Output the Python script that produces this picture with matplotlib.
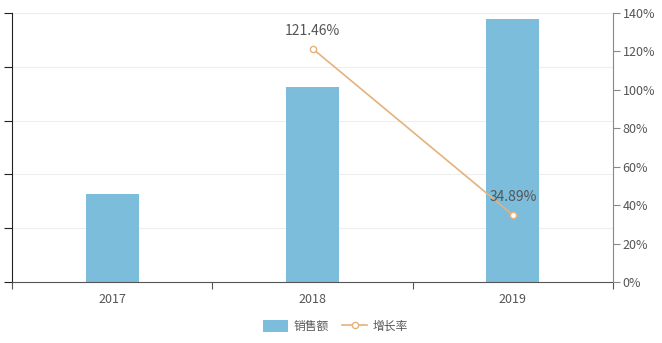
import matplotlib
matplotlib.use('Agg')
import matplotlib.pyplot as plt
from matplotlib.ticker import FixedLocator

plt.rcParams['font.family'] = ['Noto Sans CJK SC', 'DejaVu Sans']

# Data
years = ['2017', '2018', '2019']
sales = [82, 181.6, 244.5]          # 销售额 (left axis has no labels)
growth_years = [1, 2]               # positions of 2018, 2019
growth = [121.46, 34.89]            # 增长率 %
growth_labels = ['121.46%', '34.89%']
right_ticks = [0, 20, 40, 60, 80, 100, 120, 140]

BAR_COLOR = '#7bbdda'
LINE_COLOR = '#e4b27c'
TEXT_COLOR = '#555555'

fig = plt.figure(figsize=(6.62, 3.43), dpi=100)
ax = fig.add_axes([12 / 662, 61 / 343, 601 / 662, 269 / 343])
ax2 = ax.twinx()

x = list(range(len(years)))
bars = ax.bar(x, sales, width=0.265, color=BAR_COLOR, zorder=2, label='销售额')
ax.set_xlim(-0.5, 2.5)
ax.set_ylim(0, 250)
ax.set_yticks([0, 50, 100, 150, 200, 250])
ax.set_yticklabels([])
ax.grid(axis='y', color='#eeeeee', linewidth=0.8, zorder=0)
ax.set_axisbelow(True)

ax.set_xticks(x)
ax.set_xticklabels(years, fontsize=9, color=TEXT_COLOR)
ax.tick_params(axis='x', which='major', length=0, pad=8)
ax.xaxis.set_minor_locator(FixedLocator([-0.5, 0.5, 1.5, 2.5]))
ax.tick_params(axis='x', which='minor', length=5, color='#555555', width=0.8)
ax.tick_params(axis='y', length=6, color='#222222', width=0.8, direction='out')

for side in ['top', 'right']:
    ax.spines[side].set_visible(False)
ax.spines['left'].set_color('#222222')
ax.spines['bottom'].set_color('#555555')

line, = ax2.plot(growth_years, growth, color=LINE_COLOR, linewidth=1.2,
                 marker='o', markersize=4.5, markerfacecolor='white',
                 markeredgecolor=LINE_COLOR, markeredgewidth=1, zorder=3,
                 label='增长率')
ax2.set_ylim(0, 140)
ax2.set_yticks(right_ticks)
ax2.set_yticklabels([f'{t}%' for t in right_ticks], fontsize=9, color=TEXT_COLOR)
ax2.tick_params(axis='y', length=5, color='#888888', width=0.8, pad=2)
for side in ['top', 'left', 'bottom']:
    ax2.spines[side].set_visible(False)
ax2.spines['right'].set_color('#888888')

for xi, yi, lab in zip(growth_years, growth, growth_labels):
    ax2.annotate(lab, (xi, yi), xytext=(0, 8), textcoords='offset points',
                 ha='center', va='bottom', fontsize=10, color=TEXT_COLOR)

fig.legend(handles=[bars, line], loc='center', bbox_to_anchor=(0.507, 0.048),
           ncol=2, frameon=False, fontsize=8.5, handlelength=2.1, handleheight=1.1,
           columnspacing=1.1, handletextpad=0.5, labelcolor=TEXT_COLOR)

fig.savefig('out.png', dpi=100)
